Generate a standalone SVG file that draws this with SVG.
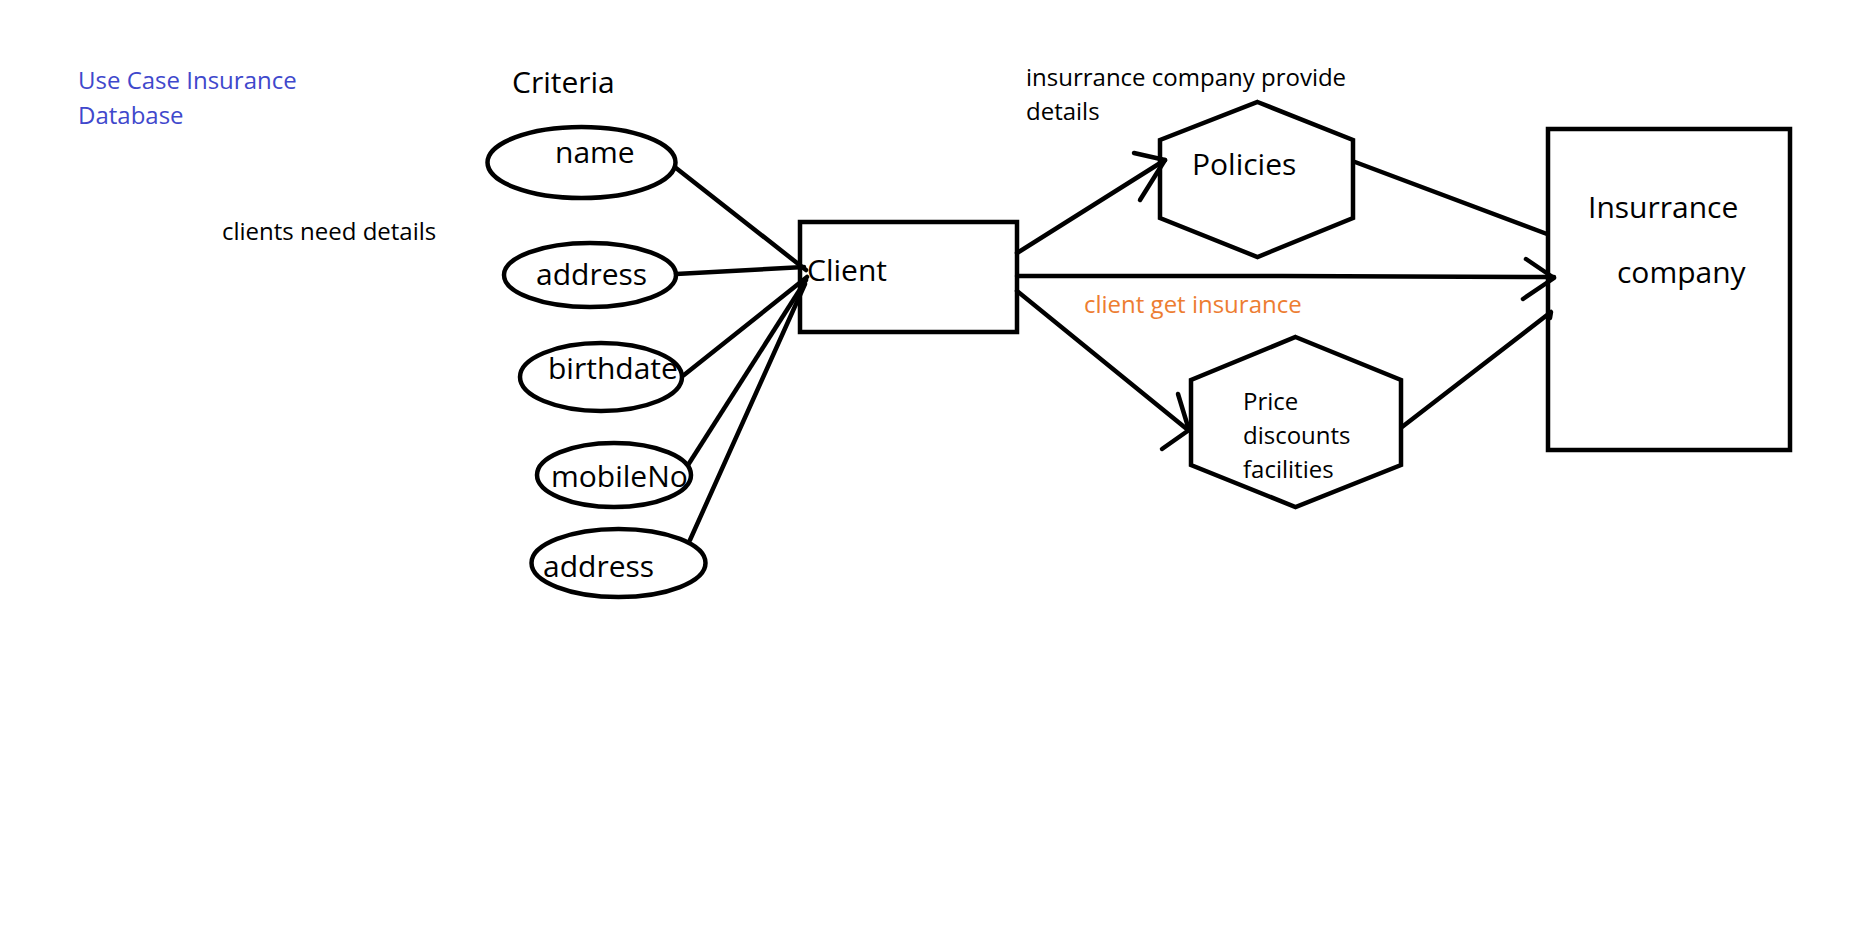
<svg xmlns="http://www.w3.org/2000/svg" width="1851" height="931" viewBox="0 0 1851 931">
<style>
.shape{fill:none;stroke:#000;stroke-width:4.5}
.conn{fill:none;stroke:#000;stroke-width:4.5;stroke-linecap:round;stroke-linejoin:round}
text{font-family:"Open Sans","Noto Sans","Liberation Sans",sans-serif;fill:#000}
.big{font-size:30px}
.small{font-size:24px}
.blue{fill:#3f48cc}
.orange{fill:#ed7d31}
</style>
<rect width="1851" height="931" fill="#fff"/>
<g id="labels">
<text class="small blue" x="78" y="89">Use Case Insurance</text>
<text class="small blue" x="78" y="124">Database</text>
<text class="big" x="512" y="93">Criteria</text>
<text class="small" x="222" y="240">clients need details</text>
<text class="small" x="1026" y="86">insurrance company provide</text>
<text class="small" x="1026" y="120">details</text>
<text class="small orange" x="1084" y="313">client get insurance</text>
</g>
<g id="connectors">
<path class="conn" d="M676 168 L806 270"/>
<path class="conn" d="M676 274 L804 267"/>
<path class="conn" d="M684 375 L807 277"/>
<path class="conn" d="M688 465 L806 280"/>
<path class="conn" d="M690 540 L805 284"/>
<path class="conn" d="M1017 253 L1165 160"/>
<path class="conn" d="M1134 153 L1165 160 L1140 200"/>
<path class="conn" d="M1355 162 L1547 234"/>
<path class="conn" d="M1017 276 L1282 276 L1554 277"/>
<path class="conn" d="M1526 259 L1554 278 L1523 299"/>
<path class="conn" d="M1017 291 L1188 430"/>
<path class="conn" d="M1178 394 L1189 430 L1162 449"/>
<path class="conn" d="M1402 427 L1551 312 L1550 318"/>
</g>
<g id="node-name">
<ellipse class="shape" cx="581.5" cy="162.5" rx="94" ry="35.5"/>
<text class="big" x="555" y="163">name</text>
</g>
<g id="node-address1">
<ellipse class="shape" cx="590" cy="275" rx="86" ry="32"/>
<text class="big" x="536" y="285">address</text>
</g>
<g id="node-birthdate">
<ellipse class="shape" cx="601" cy="377" rx="81" ry="34"/>
<text class="big" x="548" y="379">birthdate</text>
</g>
<g id="node-mobileNo">
<ellipse class="shape" cx="614" cy="475" rx="77" ry="32"/>
<text class="big" x="551" y="487">mobileNo</text>
</g>
<g id="node-address2">
<ellipse class="shape" cx="618.5" cy="563" rx="87" ry="34"/>
<text class="big" x="543" y="577">address</text>
</g>
<g id="node-client">
<rect class="shape" x="800" y="222" width="217" height="110"/>
<text class="big" x="807" y="281">Client</text>
</g>
<g id="node-policies">
<polygon class="shape" points="1257.5,102 1353,140 1353,218 1257.5,257 1160,218 1160,140"/>
<text class="big" x="1192" y="175">Policies</text>
</g>
<g id="node-price">
<polygon class="shape" points="1295.5,337 1401,380 1401,465 1295.5,507 1191,465 1191,380"/>
<text class="small" x="1243" y="410">Price</text>
<text class="small" x="1243" y="444">discounts</text>
<text class="small" x="1243" y="478">facilities</text>
</g>
<g id="node-insurance">
<rect class="shape" x="1548" y="129" width="242" height="321"/>
<text class="big" x="1588" y="218">Insurrance</text>
<text class="big" x="1617" y="283">company</text>
</g>
</svg>
